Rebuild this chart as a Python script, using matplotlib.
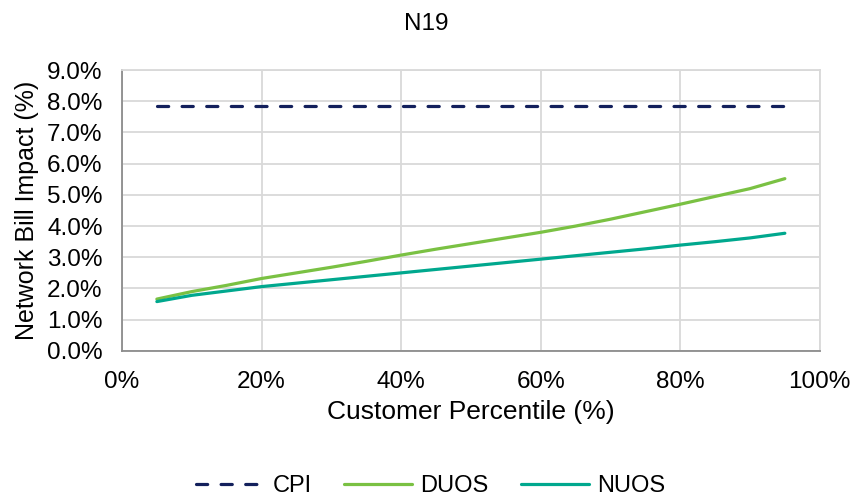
import matplotlib
matplotlib.use('Agg')
import matplotlib.pyplot as plt
from matplotlib.ticker import FuncFormatter

plt.rcParams['font.family'] = ['Liberation Sans', 'DejaVu Sans']

# customer percentile (%) and bill impact (%) per tariff component
percentile = [5, 10, 15, 20, 25, 30, 35, 40, 45, 50, 55, 60, 65, 70, 75, 80, 85, 90, 95]
cpi = [7.85] * len(percentile)
duos = [1.66, 1.90, 2.10, 2.32, 2.50, 2.68, 2.87, 3.07, 3.26, 3.44,
        3.62, 3.80, 4.00, 4.22, 4.46, 4.70, 4.95, 5.20, 5.52]
nuos = [1.58, 1.78, 1.92, 2.06, 2.17, 2.28, 2.39, 2.50, 2.61, 2.72,
        2.83, 2.94, 3.05, 3.16, 3.27, 3.39, 3.50, 3.62, 3.77]

fig = plt.figure(figsize=(8.53, 4.97), dpi=100)
ax = fig.add_axes([0.143, 0.294, 0.818, 0.565])

ax.plot(percentile, cpi, color='#13205c', lw=2.3, dashes=(3.5, 4.2),
        dash_capstyle='round', label='CPI')
ax.plot(percentile, duos, color='#7ac143', lw=2.3, solid_capstyle='round', label='DUOS')
ax.plot(percentile, nuos, color='#00a88e', lw=2.3, solid_capstyle='round', label='NUOS')

ax.set_xlim(0, 100)
ax.set_ylim(0, 9)
ax.set_xticks(range(0, 101, 20))
ax.set_yticks(range(0, 10))
ax.xaxis.set_major_formatter(FuncFormatter(lambda v, p: f'{v:.0f}%'))
ax.yaxis.set_major_formatter(FuncFormatter(lambda v, p: f'{v:.1f}%'))
ax.tick_params(length=0, labelsize=17.5)
ax.tick_params(axis='x', pad=14.5)
ax.tick_params(axis='y', pad=14)
ax.grid(True, color='#d9d9d9', lw=1.3)
ax.set_axisbelow(True)
for s in ['top', 'right']:
    ax.spines[s].set_color('#d9d9d9')
    ax.spines[s].set_linewidth(1.3)
for s in ['left', 'bottom']:
    ax.spines[s].set_color('#8c8c8c')
    ax.spines[s].set_linewidth(1.3)

ax.set_xlabel('Customer Percentile (%)', fontsize=19, labelpad=5)
ax.set_ylabel('Network Bill Impact (%)', fontsize=18, labelpad=6)
fig.text(0.5, 0.952, 'N19', ha='center', va='center', fontsize=17.5)

fig.legend(loc='center', bbox_to_anchor=(0.505, 0.022), ncol=3, frameon=False,
           fontsize=17, handlelength=2.9, columnspacing=1.35, handletextpad=0.35)

fig.savefig('out.png', dpi=100)
